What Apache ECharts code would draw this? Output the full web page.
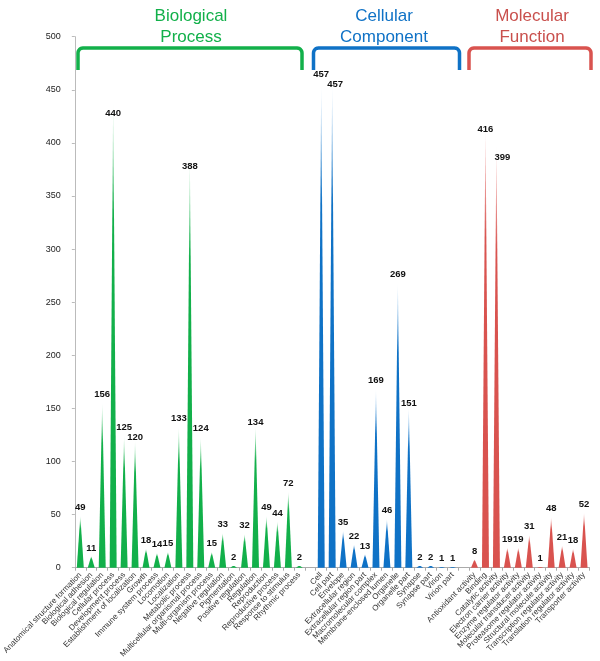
<!DOCTYPE html>
<html>
<head>
<meta charset="utf-8">
<script src="https://cdn.jsdelivr.net/npm/echarts@6/dist/echarts.min.js"></script>
<style>
html,body{margin:0;padding:0;background:#fff;}
#chart{width:600px;height:661px;}
</style>
</head>
<body>
<div id="chart"></div>
<script>
// ---- data ----
var bpCategories = ['Anatomical structure formation','Biological adhesion','Biological regulation','Cellular process','Development process','Establishment of localization','Growth','Immune system process','Locomotion','Localization','Metabolic process','Multicellular organismal process','Multi-organism process','Negative regulation','Pigmentation','Positive regulation','Regulation','Reproduction','Reproductive process','Response to stimulus','Rhythmic process'];
var bpValues = [49,11,156,440,125,120,18,14,15,133,388,124,15,33,2,32,134,49,44,72,2];
var ccCategories = ['Cell','Cell part','Envelope','Extracellular region','Extracellular region part','Macromolecular complex','Membrane-enclosed lumen','Organelle','Organelle part','Synapse','Synapse part','Virion','Virion part'];
var ccValues = [457,457,35,22,13,169,46,269,151,2,2,1,1];
var mfCategories = ['Antioxidant activity','Binding','Catalytic activity','Electron carrier activity','Enzyme regulator activity','Molecular transducer activity','Proteasome regulator activity','Structural molecule activity','Transcription regulator activity','Translation regulator activity','Transporter activity'];
var mfValues = [8,416,399,19,19,31,1,48,21,18,52];
var yTicks = [0,50,100,150,200,250,300,350,400,450,500];
var groupTitles = ['Biological\nProcess','Cellular\nComponent','Molecular\nFunction'];

// label nudges (style only): [dx, dy] in pixels
var labelNudge = {
  'Cellular process':[0,21], 'Metabolic process':[0,19], 'Establishment of localization':[0,5],
  'Regulation':[0,5], 'Cell part':[3,10], 'Organelle part':[0,4],
  'Binding':[0,11], 'Catalytic activity':[6,21]
};

// ---- build ----
var categories = [].concat(bpCategories, [''], ccCategories, [''], mfCategories);
var n = categories.length;
function place(vals, cats, start){
  var arr = [];
  for (var i=0;i<n;i++) arr.push(null);
  for (var j=0;j<vals.length;j++){
    var nd = labelNudge[cats[j]];
    arr[start+j] = nd ? {value:vals[j],label:{offset:nd}} : vals[j];
  }
  return arr;
}
var bpStart = 0, ccStart = bpCategories.length + 1, mfStart = ccStart + ccCategories.length + 1;
var colors = ['#12b04a','#0f72c6','#d9534f'];
var lights = ['#bdeccc','#b5d6f2','#f5c4c3'];
function grad(i){
  return {type:'linear',x:0,y:0,x2:0,y2:1,global:false,colorStops:[
    {offset:0,color:'rgba(255,255,255,1)'},
    {offset:0.06,color:lights[i]},
    {offset:0.25,color:colors[i]},
    {offset:1,color:colors[i]}
  ]};
}
var fam = 'Liberation Sans, Arial';
function mkSeries(vals,cats,start,i){
  return {
    type:'pictorialBar',
    symbol:'triangle',
    symbolSize:[7,'100%'],
    barWidth:'100%',
    barGap:'-100%',
    data: place(vals,cats,start),
    itemStyle:{color:grad(i)},
    label:{show:true,position:'top',distance:3,fontSize:9.5,fontWeight:'bold',color:'#111',fontFamily:fam}
  };
}

var chart = echarts.init(document.getElementById('chart'));
function bracket(x1,x2,color){
  var y1=70,y0=48,r=5,pts=[[x1,y1]];
  var k;
  for(k=0;k<=6;k++){var a=Math.PI*(1+k/12);pts.push([x1+r+r*Math.cos(a),y0+r+r*Math.sin(a)]);}
  for(k=6;k<=12;k++){var b=Math.PI*(1+k/12);pts.push([x2-r+r*Math.cos(b),y0+r+r*Math.sin(b)]);}
  pts.push([x2,y1]);
  return {type:'polyline',shape:{points:pts},style:{stroke:color,lineWidth:3.5,fill:null,lineJoin:'round'},silent:true};
}
function title(x,txt,color){
  return {type:'text',x:x,y:6,style:{text:txt,fill:color,font:'17px '+fam,textAlign:'center',lineHeight:21},silent:true};
}
chart.setOption({
  animation:false,
  backgroundColor:'#fff',
  grid:{left:73,right:10.5,top:36.7,bottom:93.3,containLabel:false},
  xAxis:{
    type:'category',
    data:categories,
    axisLine:{lineStyle:{color:'#aaa',width:1}},
    axisTick:{show:true,length:3,lineStyle:{color:'#aaa'}},
    axisLabel:{interval:0,rotate:46,fontSize:8,color:'#333',fontFamily:fam,margin:6}
  },
  yAxis:{
    type:'value',min:yTicks[0],max:yTicks[yTicks.length-1],interval:50,
    splitLine:{show:false},
    axisLine:{show:true,lineStyle:{color:'#bbb'}},
    axisTick:{show:true,length:3,lineStyle:{color:'#bbb'}},
    axisLabel:{fontSize:9,color:'#222',fontFamily:fam,margin:14}
  },
  series:[mkSeries(bpValues,bpCategories,bpStart,0),mkSeries(ccValues,ccCategories,ccStart,1),mkSeries(mfValues,mfCategories,mfStart,2)],
  graphic:[
    bracket(78,302,colors[0]),bracket(313.5,459.5,colors[1]),bracket(469,591,colors[2]),
    title(191,groupTitles[0],'#12b04a'),title(384,groupTitles[1],'#0f72c6'),title(532,groupTitles[2],'#c9504d')
  ]
});
</script>
</body>
</html>
